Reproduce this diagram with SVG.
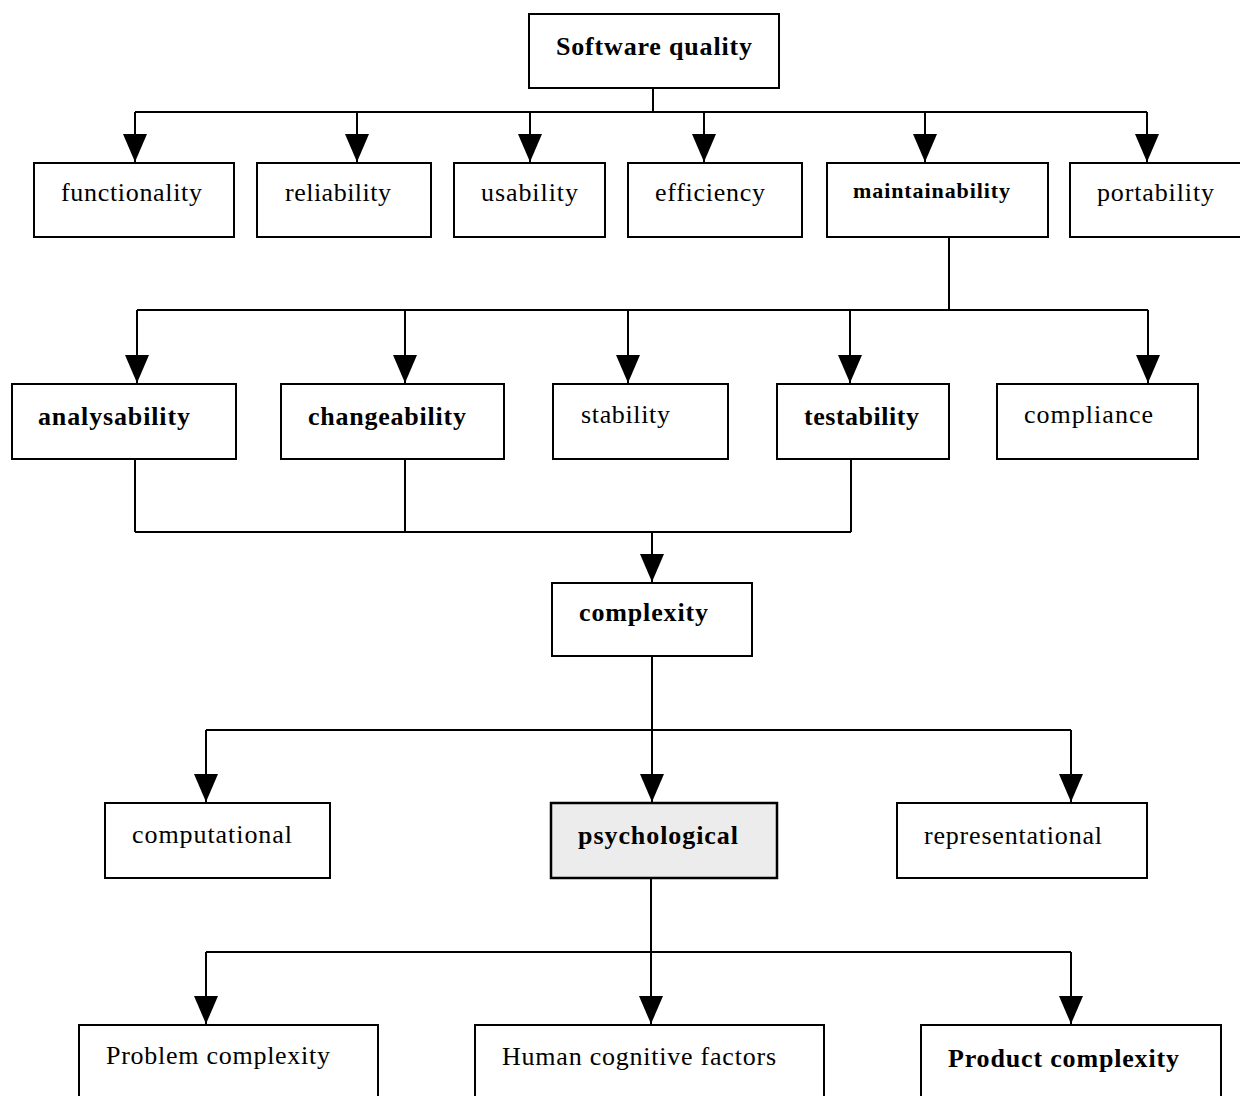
<svg xmlns="http://www.w3.org/2000/svg" width="1240" height="1096" viewBox="0 0 1240 1096">
<style>
.box{fill:#fff;stroke:#000;stroke-width:2}
.shade{fill:#ececec;stroke:#000;stroke-width:2.5}
.t{font-family:"Liberation Serif","Times New Roman",serif;font-size:26px;fill:#000}
.b{font-weight:bold}
.c{fill:none;stroke:#000;stroke-width:2}
</style>
<defs>
<marker id="ah" markerUnits="userSpaceOnUse" markerWidth="30" markerHeight="26" refX="28" refY="13" orient="auto" viewBox="0 0 30 26">
<path d="M0,1 L28,13 L0,25 Z" fill="#000"/>
</marker>
</defs>
<rect width="1240" height="1096" fill="#fff"/>
<g id="connectors">
<path class="c" d="M653,88 V112 M135,112 H1147"/>
<path class="c" d="M135,112 V162" marker-end="url(#ah)"/>
<path class="c" d="M357,112 V162" marker-end="url(#ah)"/>
<path class="c" d="M530,112 V162" marker-end="url(#ah)"/>
<path class="c" d="M704,112 V162" marker-end="url(#ah)"/>
<path class="c" d="M925,112 V162" marker-end="url(#ah)"/>
<path class="c" d="M1147,112 V162" marker-end="url(#ah)"/>
<path class="c" d="M949,237 V310 M137,310 H1148"/>
<path class="c" d="M137,310 V383" marker-end="url(#ah)"/>
<path class="c" d="M405,310 V383" marker-end="url(#ah)"/>
<path class="c" d="M628,310 V383" marker-end="url(#ah)"/>
<path class="c" d="M850,310 V383" marker-end="url(#ah)"/>
<path class="c" d="M1148,310 V383" marker-end="url(#ah)"/>
<path class="c" d="M135,459 V532 M405,459 V532 M851,459 V532 M135,532 H851"/>
<path class="c" d="M652,532 V582" marker-end="url(#ah)"/>
<path class="c" d="M652,656 V802" marker-end="url(#ah)"/>
<path class="c" d="M206,730 H1071"/>
<path class="c" d="M206,730 V802" marker-end="url(#ah)"/>
<path class="c" d="M1071,730 V802" marker-end="url(#ah)"/>
<path class="c" d="M651,878 V1024" marker-end="url(#ah)"/>
<path class="c" d="M206,952 H1071"/>
<path class="c" d="M206,952 V1024" marker-end="url(#ah)"/>
<path class="c" d="M1071,952 V1024" marker-end="url(#ah)"/>
</g>
<g id="software-quality"><rect class="box" x="529" y="14" width="250" height="74"/><text class="t b" x="556" y="55" textLength="196">Software quality</text></g>
<g id="functionality"><rect class="box" x="34" y="163" width="200" height="74"/><text class="t" x="61" y="201" textLength="141">functionality</text></g>
<g id="reliability"><rect class="box" x="257" y="163" width="174" height="74"/><text class="t" x="285" y="201" textLength="106">reliability</text></g>
<g id="usability"><rect class="box" x="454" y="163" width="151" height="74"/><text class="t" x="481" y="201" textLength="97">usability</text></g>
<g id="efficiency"><rect class="box" x="628" y="163" width="174" height="74"/><text class="t" x="655" y="201" textLength="110">efficiency</text></g>
<g id="maintainability"><rect class="box" x="827" y="163" width="221" height="74"/><text class="t b" style="font-size:22px" x="853" y="198" textLength="157">maintainability</text></g>
<g id="portability"><rect class="box" x="1070" y="163" width="175" height="74"/><text class="t" x="1097" y="201" textLength="117">portability</text></g>
<g id="analysability"><rect class="box" x="12" y="384" width="224" height="75"/><text class="t b" x="38" y="425" textLength="152">analysability</text></g>
<g id="changeability"><rect class="box" x="281" y="384" width="223" height="75"/><text class="t b" x="308" y="425" textLength="158">changeability</text></g>
<g id="stability"><rect class="box" x="553" y="384" width="175" height="75"/><text class="t" x="581" y="423" textLength="89">stability</text></g>
<g id="testability"><rect class="box" x="777" y="384" width="172" height="75"/><text class="t b" x="804" y="425" textLength="115">testability</text></g>
<g id="compliance"><rect class="box" x="997" y="384" width="201" height="75"/><text class="t" x="1024" y="423" textLength="129">compliance</text></g>
<g id="complexity"><rect class="box" x="552" y="583" width="200" height="73"/><text class="t b" x="579" y="621" textLength="129">complexity</text></g>
<g id="computational"><rect class="box" x="105" y="803" width="225" height="75"/><text class="t" x="132" y="843" textLength="160">computational</text></g>
<g id="psychological"><rect class="shade" x="551" y="803" width="226" height="75"/><text class="t b" x="578" y="844" textLength="160">psychological</text></g>
<g id="representational"><rect class="box" x="897" y="803" width="250" height="75"/><text class="t" x="924" y="844" textLength="178">representational</text></g>
<g id="problem-complexity"><rect class="box" x="79" y="1025" width="299" height="80"/><text class="t" x="106" y="1064" textLength="224">Problem complexity</text></g>
<g id="human-cognitive-factors"><rect class="box" x="475" y="1025" width="349" height="80"/><text class="t" x="502" y="1065" textLength="274">Human cognitive factors</text></g>
<g id="product-complexity"><rect class="box" x="921" y="1025" width="300" height="80"/><text class="t b" x="948" y="1067" textLength="231">Product complexity</text></g>
</svg>
